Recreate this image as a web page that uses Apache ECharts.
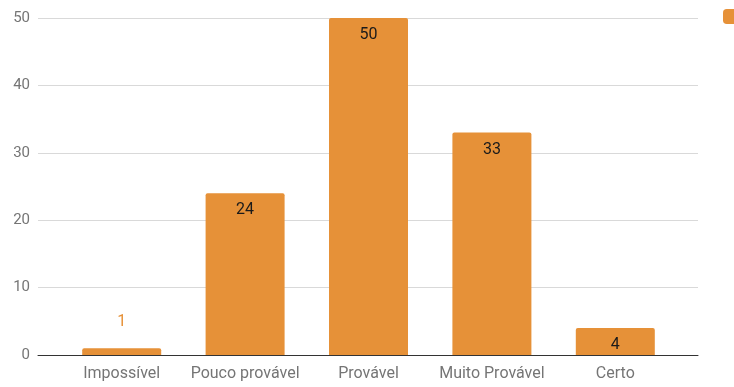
<!DOCTYPE html>
<html>
<head>
<meta charset="utf-8">
<script src="https://cdn.jsdelivr.net/npm/echarts@6/dist/echarts.min.js"></script>
<style>
  html, body { margin: 0; padding: 0; background: #fff; }
  #chart { width: 734px; height: 387px; }
</style>
</head>
<body>
<div id="chart"></div>
<script>
// Survey answers: how likely each outcome is considered
const categories = ['Impossível', 'Pouco provável', 'Provável', 'Muito Provável', 'Certo'];
const counts = [1, 24, 50, 33, 4];
const yTicks = [0, 10, 20, 30, 40, 50];
const seriesName = 'Respostas';

const orange = '#E69138';
const font = 'Roboto, "Noto Sans", sans-serif';
const yMax = yTicks[yTicks.length - 1];
const yStep = yTicks[1] - yTicks[0];

const chart = echarts.init(document.getElementById('chart'));
chart.setOption({
  animation: false,
  textStyle: { fontFamily: font },
  legend: {
    left: 718, top: 4,
    icon: 'roundRect',
    itemWidth: 15, itemHeight: 15,
    textStyle: { fontSize: 13, color: '#222' },
    data: [seriesName]
  },
  grid: [
    // outer frame: gridlines, y labels and baseline span the full width
    { left: 38, right: 36, top: 18, bottom: 32, containLabel: false },
    // inner band that holds the bars
    { left: 60, right: 57, top: 18, bottom: 32, containLabel: false }
  ],
  xAxis: [
    {
      gridIndex: 0, type: 'category', data: categories,
      axisLine: { lineStyle: { color: '#333', width: 1 } },
      axisTick: { show: false }, axisLabel: { show: false }
    },
    {
      gridIndex: 1, type: 'category', data: categories,
      axisLine: { show: false }, axisTick: { show: false },
      axisLabel: { color: '#757575', fontSize: 16, margin: 11, interval: 0 }
    }
  ],
  yAxis: [
    {
      gridIndex: 0, type: 'value', min: 0, max: yMax, interval: yStep,
      axisLine: { show: false }, axisTick: { show: false },
      axisLabel: { color: '#757575', fontSize: 15, margin: 8 },
      splitLine: { lineStyle: { color: '#d9d9d9', width: 1 } }
    },
    {
      gridIndex: 1, type: 'value', min: 0, max: yMax, interval: yStep,
      show: false, splitLine: { show: false }
    }
  ],
  series: [{
    name: seriesName,
    type: 'bar',
    xAxisIndex: 1, yAxisIndex: 1,
    barWidth: 79,
    itemStyle: { color: orange, borderRadius: [2, 2, 0, 0] },
    data: counts.map(v => {
      const small = v < 3;
      return {
        value: v,
        label: {
          show: true,
          position: small ? 'top' : 'insideTop',
          distance: small ? 18 : 9,
          color: small ? orange : '#1a1a1a',
          fontSize: 16
        }
      };
    }),
    z: 3
  }]
});
</script>
</body>
</html>
